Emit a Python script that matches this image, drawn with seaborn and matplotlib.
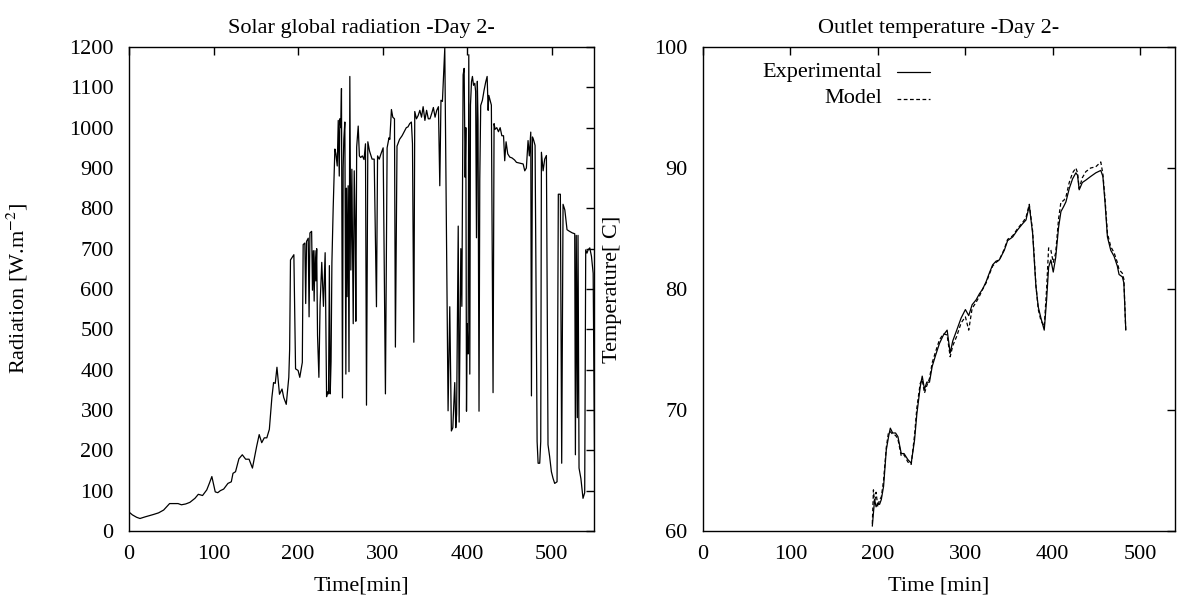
import matplotlib
matplotlib.use("Agg")
import matplotlib.pyplot as plt
import seaborn as sns
import pandas as pd
import numpy as np

# ---------------- data: solar radiation (left) ----------------
t_rad = [0, 4, 9, 13, 19, 24, 29, 35, 41, 48, 53, 58, 62, 67, 72, 78, 82, 87, 92, 95, 98,
         102, 105, 108, 112, 117, 121, 123, 126, 130, 134, 138, 142, 146, 151, 154, 157, 160,
         163, 166, 169, 171, 173, 175, 178, 181, 183, 186, 189,
         190, 191, 195, 197, 200, 202, 205, 206, 208, 209, 210, 212, 213, 214, 216, 217, 218,
         219, 220, 221, 222, 223, 224.6, 226, 228, 230, 232, 233.7, 235, 236, 237, 238, 239,
         240, 241.5, 243.5,
         244.7, 246.3, 247.5, 248.7, 249.4, 250.5, 251.3, 252.5, 253.3, 254.1, 255.3, 256.5,
         257.2, 258, 259.2, 260.2, 261.2, 262.4, 263.6, 265.2, 266.4, 267.5, 268.3, 269.3,
         271.1, 272.5, 274, 276, 278, 279.7, 280.9, 282.5, 284.5, 287.5, 290, 292.7, 294, 296,
         298, 300.6, 303.3, 305.3, 307.5, 308.5, 310.4, 312, 314, 315.1, 317, 320, 323, 326.2,
         328, 330, 332, 334, 335.3, 336.9, 338, 340, 342, 344, 346, 347.9, 350, 352, 354, 356,
         358, 360, 362, 364, 366, 367.6, 369, 370.7, 373.5, 377.4, 379.4, 381.3, 383, 385.3,
         386.5, 387.5, 389.4, 390.5, 392.5, 393.7, 395.2, 396.4, 397.6, 398.4, 399.2, 400,
         401.1, 401.9, 403.1, 403.9, 405.1, 406.2, 407.5, 409, 410, 411, 412, 412.8, 414,
         414.9, 416, 418, 420, 422, 423.6, 424.8, 425.6, 426.6, 428.6, 430.6, 431.8, 433, 435,
         437, 439, 441, 443, 444.4, 446, 448, 450.4, 453, 456, 458.3, 462, 466.2, 468.1, 470,
         472, 473.5, 475.2, 476, 477.2, 478.5, 480.3, 481.5, 482.7, 483.9, 485.8, 487, 487.8,
         489.8, 491.7, 493.7, 495.6, 497.5, 499.6, 501.5, 503.5, 506.3, 507.8, 510.2, 511.8,
         513.4, 515.5, 518.1, 521, 524.4, 527.2, 528, 529, 530.3, 531.1, 532.3, 534.5, 537,
         539, 540.2, 541.7, 543, 545, 547, 549, 551]
r_rad = [47, 40, 34, 31, 35, 38, 41, 45, 52, 68, 68, 68, 65, 67, 71, 81, 91, 88, 102, 118, 135,
         97, 95, 100, 104, 118, 122, 143, 147, 179, 189, 178, 178, 156, 210, 239, 219, 231,
         231, 252, 331, 368, 366, 406, 339, 352, 331, 314, 381,
         450, 672, 685, 402, 398, 381, 418, 710, 714, 564, 718, 726, 531, 739, 743, 597, 695,
         570, 695, 620, 700, 485, 381, 560, 666, 557, 690, 333, 345, 340, 658, 340, 420,
         666, 800, 947,
         935, 905, 1018, 880, 1022, 1000, 1097, 330, 900, 972, 1014, 389,
         850, 581, 856, 395, 1127, 647, 897, 514, 893, 756, 520, 952,
         1004, 930, 926, 930, 921, 960, 312, 965, 942, 922, 922, 556, 930, 922,
         935, 950, 340, 950, 975, 971, 1045, 1026, 1022, 456, 954, 971, 980, 993,
         1000, 1002, 1010, 1014, 960, 468, 1040, 1022, 1030, 1043, 1026, 1052, 1018, 1043, 1022, 1022,
         1035, 1050, 1026, 1043, 1052, 856, 1068, 1065, 1197, 298, 556, 248, 256, 368,
         256, 290, 756, 270, 700, 557, 1131, 1147, 877, 1000, 297, 514,
         439, 1181, 389, 1056, 1114, 1127, 1105, 1110, 1090, 727, 1115, 1018, 297,
         872, 1055, 1068, 1093, 1114, 1127, 1043, 1080, 1072, 1056, 343, 1010, 996, 1000,
         990, 1000, 980, 980, 918, 965, 935, 927, 925, 920, 914, 912, 910, 893, 900,
         968, 930, 989, 335, 977, 970, 956, 600, 222, 168, 168, 222, 939,
         893, 922, 931, 214, 185, 147, 131, 118, 122, 835, 835, 168,
         810, 796, 747, 743, 739, 737, 189, 733, 281, 733, 156, 130, 81,
         95, 697, 689, 697, 702, 681, 639, 89]

# ---------------- data: outlet temperature (right) ----------------
t_temp = [193.7, 195, 196.3, 198, 200, 202, 204, 206.6, 209.7, 212.3, 214.3, 217, 220.3, 223,
          226.8, 230, 234.4, 238.2, 242, 244.7, 248.5, 250.8, 253.4, 256, 259.1, 262.2, 266,
          270.5, 275.1, 279.3, 282.8, 285.7, 290.3, 295.3, 300.2, 304, 307.9, 312.4, 316.2,
          320, 323.9, 327.5, 331.4, 335.3, 339, 344.7, 348.5, 354.3, 360, 365.7, 369.5, 373.3,
          377.1, 379, 380.9, 383.6, 386.6, 390.4, 393.1, 395.4, 398, 400.7, 403.5, 406.8,
          409.5, 412.5, 415.2, 419, 422.8, 426.6, 428.5, 430.4, 434, 438, 443.5, 449.4, 455.1,
          457.5, 460, 462.7, 466.5, 470.3, 474, 476, 479.8, 481.5, 483.7]
T_experimental = [60.4, 61.5, 62.6, 62.0, 62.3, 62.2, 62.6, 63.7, 66.7, 67.8, 68.5, 68.1, 68.1,
                  67.8, 66.4, 66.4, 65.9, 65.6, 67.5, 69.7, 71.9, 72.8, 71.7, 72.3, 72.3, 73.6,
                  74.5, 75.5, 76.2, 76.6, 74.7, 75.7, 76.6, 77.6, 78.3, 77.8, 78.7, 79.1, 79.6,
                  80.0, 80.6, 81.3, 82.0, 82.3, 82.4, 83.2, 84.0, 84.3, 84.9, 85.4, 85.7, 86.9,
                  84.6, 82.4, 80.2, 78.5, 77.6, 76.6, 79.1, 81.8, 82.4, 81.4, 82.6, 85.1, 86.4,
                  86.8, 87.2, 88.3, 89.1, 89.6, 89.4, 88.2, 88.8, 89.0, 89.3, 89.6, 89.8, 89.3,
                  87.1, 84.3, 83.2, 82.7, 81.9, 81.2, 81.0, 80.5, 76.6]
T_model = [60.6, 63.4, 62.3, 63.2, 62.0, 62.6, 62.8, 64.2, 66.9, 68.2,
           68.2, 68.0, 67.9, 67.6, 66.2, 66.3, 65.7, 65.5, 67.9, 70.2,
           72.2, 72.5, 71.4, 72.0, 72.6, 73.9, 74.8, 75.8, 76.3, 76.2,
           74.4, 75.3, 76.1, 77.2, 77.7, 76.6, 78.4, 78.9, 79.4, 80.0,
           80.5, 81.2, 81.9, 82.2, 82.4, 83.3, 84.1, 84.4, 85.0, 85.5,
           85.9, 87.0, 84.8, 82.6, 80.3, 78.3, 77.4, 76.9, 80.0, 83.4,
           83.2, 82.2, 83.0, 85.8, 87.2, 87.3, 87.6, 88.8, 89.6, 90.0,
           89.6, 88.3, 89.2, 89.7, 90.0, 90.1, 90.5, 89.5, 87.4, 84.6,
           83.5, 83.0, 82.2, 81.6, 81.3, 80.8, 76.5]

rad_yticks = list(range(0, 1201, 100))
rad_xticks = list(range(0, 501, 100))
temp_yticks = [60, 70, 80, 90, 100]
temp_xticks = [0, 100, 200, 300, 400, 500]

# ---------------- style ----------------
sns.set_theme(style="white")
plt.rcParams["font.family"] = ["Liberation Serif", "DejaVu Serif"]
plt.rcParams["mathtext.fontset"] = "stix"
plt.rcParams["axes.linewidth"] = 1.0
plt.rcParams["text.color"] = "black"
plt.rcParams["axes.labelcolor"] = "black"
plt.rcParams["xtick.color"] = "black"
plt.rcParams["ytick.color"] = "black"
FS = 16

fig = plt.figure(figsize=(11.83, 5.97), dpi=100)
W, H = 1183, 597
ax1 = fig.add_axes([129 / W, 66 / H, 465 / W, 484 / H])
ax2 = fig.add_axes([703 / W, 66 / H, 472 / W, 484 / H])

df_rad = pd.DataFrame({"t": t_rad, "r": r_rad})
sns.lineplot(data=df_rad, x="t", y="r", ax=ax1, color="black", linewidth=0.9,
             sort=False, estimator=None)

df_temp = pd.DataFrame({"t": t_temp, "exp": T_experimental, "mod": T_model})
sns.lineplot(data=df_temp, x="t", y="exp", ax=ax2, color="black", linewidth=0.9,
             sort=False, estimator=None)
sns.lineplot(data=df_temp, x="t", y="mod", ax=ax2, color="black", linewidth=0.9,
             sort=False, estimator=None, linestyle=(0, (3, 2)))

ax1.set_xlim(0, 550)
ax1.set_ylim(0, 1200)
ax1.set_xticks(rad_xticks)
ax1.set_yticks(rad_yticks)
ax2.set_xlim(0, 540)
ax2.set_ylim(60, 100)
ax2.set_xticks(temp_xticks)
ax2.set_yticks(temp_yticks)

for ax in (ax1, ax2):
    for s in ax.spines.values():
        s.set_color("black")
        s.set_linewidth(1.0)
    ax.tick_params(direction="in", top=True, right=True, length=6, width=1.0,
                   labelsize=FS, colors="black")
    ax.tick_params(axis="y", pad=11)
    ax.tick_params(axis="x", pad=10)

ax1.set_title("Solar global radiation -Day 2-", fontsize=FS, pad=10, color="black")
ax2.set_title("Outlet temperature -Day 2-", fontsize=FS, pad=10, color="black")
ax1.set_xlabel("Time[min]", fontsize=FS, color="black")
ax2.set_xlabel("Time [min]", fontsize=FS, color="black")
ax1.set_ylabel(r"Radiation [W.m$^{-2}$]", fontsize=FS, color="black")
ax2.set_ylabel("Temperature[ C]", fontsize=FS, color="black")
ax1.yaxis.set_label_coords(-0.213, 0.5)
ax2.yaxis.set_label_coords(-0.172, 0.5)
ax1.xaxis.set_label_coords(0.5, -0.093)
ax2.xaxis.set_label_coords(0.5, -0.093)

# gnuplot-style key: right-aligned text followed by the line sample
key_rows = [("Experimental", "-", 0.948), ("Model", (0, (3, 2)), 0.893)]
for label, ls, yk in key_rows:
    ax2.text(0.379, yk, label, transform=ax2.transAxes, ha="right", va="center",
             fontsize=FS, color="black")
    ax2.plot([0.411, 0.481], [yk, yk], transform=ax2.transAxes, color="black",
             linewidth=0.9, linestyle=ls)

fig.savefig("out.png", dpi=100)
